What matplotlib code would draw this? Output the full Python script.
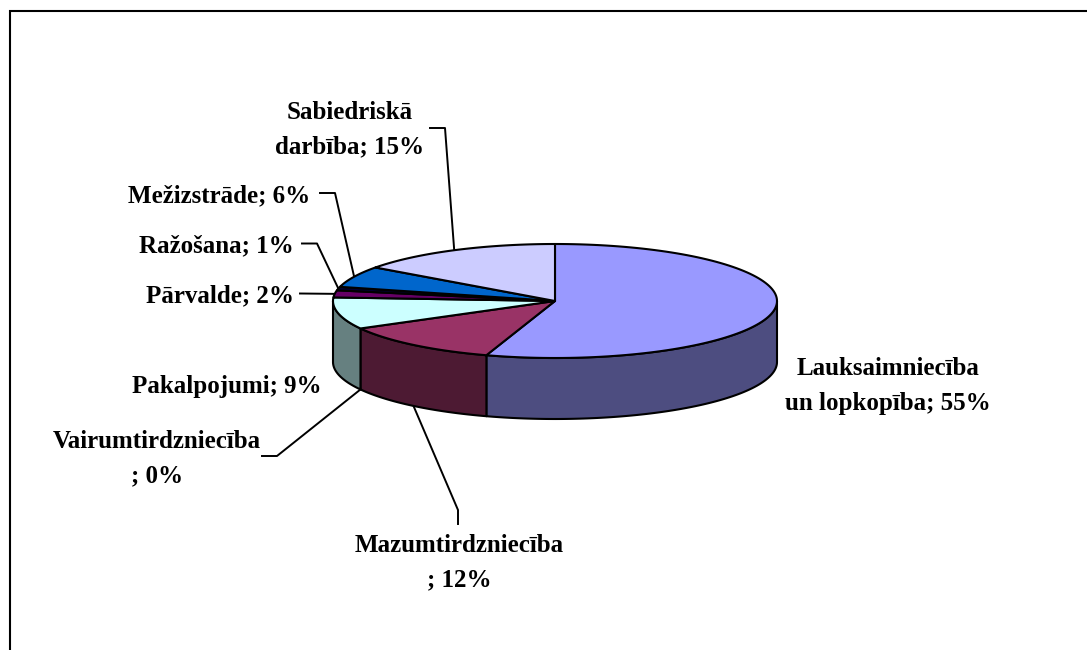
import numpy as np
import matplotlib
matplotlib.use('Agg')
import matplotlib.pyplot as plt
from matplotlib.colors import to_rgb
from matplotlib.patches import Polygon

# Data
categories = ['Lauksaimniecība un lopkopība', 'Mazumtirdzniecība', 'Vairumtirdzniecība', 'Pakalpojumi',
              'Pārvalde', 'Ražošana', 'Mežizstrāde', 'Sabiedriskā darbība']
values = [55, 12, 0, 9, 2, 1, 6, 15]
colors = ['#9999FF', '#993366', '#FFFFCC', '#CCFFFF', '#660066', '#000033', '#0066CC', '#CCCCFF']
label_texts = ['Lauksaimniecība\nun lopkopība; 55%', 'Mazumtirdzniecība\n; 12%', 'Vairumtirdzniecība\n; 0%',
               'Pakalpojumi; 9%', 'Pārvalde; 2%', 'Ražošana; 1%', 'Mežizstrāde; 6%', 'Sabiedriskā\ndarbība; 15%']

# Layout of the pie, in pixels
cx, cy, rx, ry, depth = 555, 301, 222, 57, 61
label_pos = [(888, 386), (459, 563), (157, 459), (227, 387), (220, 296), (216, 246), (219, 196), (350, 130)]
elbows = [None, [(458, 524), (458, 510)], [(262, 456), (277, 456)], None, [(300, 293.5)],
          [(302, 243.5), (317, 243.5)], [(320, 193), (335, 193)], [(430, 128), (445, 128)]]

plt.rcParams['font.family'] = ['Liberation Serif', 'DejaVu Serif']

fig = plt.figure(figsize=(10.87, 6.5), dpi=100)
ax = fig.add_axes([0, 0, 1, 1])
ax.set_xlim(0, 1087)
ax.set_ylim(650, 0)
ax.axis('off')

# Frame is cut off on the right and bottom
ax.plot([9.5, 9.5, 1087], [650, 10.5, 10.5], color='black', lw=1.5, solid_joinstyle='miter')


def rim(a0, a1, dy=0):
    # angles clockwise from 12 o'clock, in percent of the circle
    t = np.radians(np.linspace(a0, a1, 120) * 3.6)
    return np.column_stack([cx + rx * np.sin(t), cy + dy - ry * np.cos(t)])


edges = np.concatenate([[0], np.cumsum(values)])
outline = dict(edgecolor='black', lw=1.5, joinstyle='round')

# Side wall: only the front half of the pie is visible (25% to 75% of the circle)
side_ranges = [(25, 55, 0), (55, 67, 1), (67, 75, 3)]
for a0, a1, i in side_ranges:
    top = rim(a0, a1)
    bottom = rim(a0, a1, depth)
    shade = tuple(c * 0.5 for c in to_rgb(colors[i]))
    ax.add_patch(Polygon(np.vstack([top, bottom[::-1]]), closed=True, facecolor=shade, zorder=2, **outline))

# Top face
for i, v in enumerate(values):
    if v == 0:
        continue
    pts = np.vstack([[(cx, cy)], rim(edges[i], edges[i + 1])])
    ax.add_patch(Polygon(pts, closed=True, facecolor=colors[i], zorder=3, **outline))

# Labels and leader lines
for i, text in enumerate(label_texts):
    ax.text(label_pos[i][0], label_pos[i][1], text, ha='center', va='center', fontsize=18,
            fontweight='bold', linespacing=1.62, color='black', zorder=5)
    if elbows[i] is None:
        continue
    mid = (edges[i] + edges[i + 1]) / 2
    front = 25 < mid < 75
    end = rim(mid, mid, depth if front else 0)[0]
    pts = np.array(elbows[i] + [tuple(end)])
    ax.plot(pts[:, 0], pts[:, 1], color='black', lw=1.4, zorder=1)

fig.savefig('out.png', dpi=100, facecolor='white')
